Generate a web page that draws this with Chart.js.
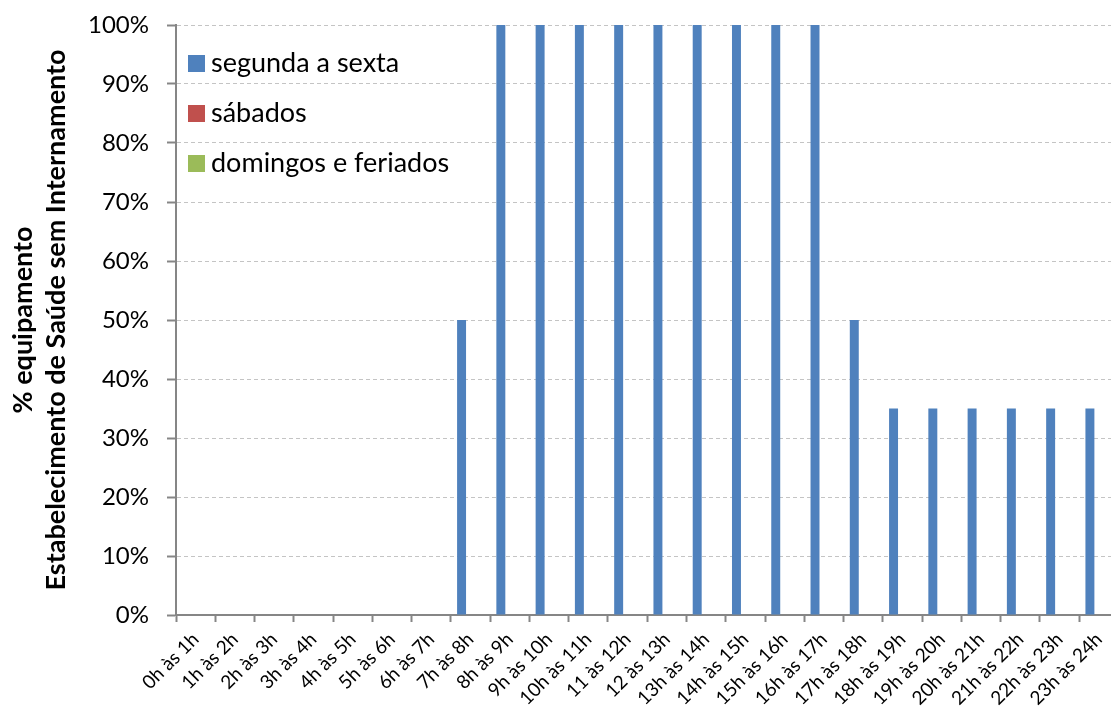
<!DOCTYPE html>
<html>
<head>
<meta charset="utf-8">
<script src="https://cdn.jsdelivr.net/npm/chart.js@4"></script>
<style>
    html, body { margin: 0; padding: 0; overflow: hidden; background: #fff; }
    #wrap { position: relative; width: 1121px; height: 711px; }
</style>
</head>
<body>
<div id="wrap"><canvas id="perfilChart" width="1121" height="711"></canvas></div>
<script>
// Horários (eixo X)
const horas = [
    '0h às 1h', '1h às 2h', '2h às 3h', '3h às 4h', '4h às 5h', '5h às 6h',
    '6h às 7h', '7h às 8h', '8h às 9h', '9h às 10h', '10h às 11h', '11 às 12h',
    '12 às 13h', '13h às 14h', '14h às 15h', '15h às 16h', '16h às 17h', '17h às 18h',
    '18h às 19h', '19h às 20h', '20h às 21h', '21h às 22h', '22h às 23h', '23h às 24h'
];

// % de utilização por tipo de dia
const segundaSexta = [0, 0, 0, 0, 0, 0, 0, 50, 100, 100, 100, 100, 100, 100, 100, 100, 100, 50, 35, 35, 35, 35, 35, 35];
const sabados = [0, 0, 0, 0, 0, 0, 0, 0, 0, 0, 0, 0, 0, 0, 0, 0, 0, 0, 0, 0, 0, 0, 0, 0];
const domingosFeriados = [0, 0, 0, 0, 0, 0, 0, 0, 0, 0, 0, 0, 0, 0, 0, 0, 0, 0, 0, 0, 0, 0, 0, 0];

const nomesSeries = ['segunda a sexta', 'sábados', 'domingos e feriados'];
const coresSeries = ['#4F81BD', '#C0504D', '#9BBB59'];

const tituloY = ['% equipamento', 'Estabelecimento de Saúde sem Internamento'];

const CINZA_EIXO = '#868686';
const FONTE = 'Lato';

// legenda vertical dentro da área do gráfico
const legendaInterna = {
    id: 'legendaInterna',
    afterDraw(chart) {
        const { ctx, chartArea } = chart;
        ctx.save();
        ctx.font = '27px ' + FONTE;
        ctx.textBaseline = 'alphabetic';
        chart.data.datasets.forEach((ds, i) => {
            const y = chartArea.top + 38 + i * 50;
            ctx.fillStyle = ds.backgroundColor;
            ctx.fillRect(chartArea.left + 12, y - 8, 17, 17);
            ctx.fillStyle = '#000';
            ctx.fillText(ds.label, chartArea.left + 35, y + 9);
        });
        ctx.restore();
    }
};

function drawChart() {
    const ctx = document.getElementById('perfilChart');
    const series = [segundaSexta, sabados, domingosFeriados];

    new Chart(ctx, {
        type: 'bar',
        data: {
            labels: horas,
            datasets: series.map((valores, i) => ({
                label: nomesSeries[i],
                data: valores,
                backgroundColor: coresSeries[i],
                borderWidth: 0,
                categoryPercentage: 0.685,
                barPercentage: 1.0
            }))
        },
        options: {
            responsive: false,
            animation: false,
            devicePixelRatio: 1,
            layout: { padding: { top: 25, left: 0, right: 0, bottom: 0 } },
            plugins: {
                legend: { display: false },
                tooltip: { enabled: false }
            },
            scales: {
                x: {
                    offset: true,
                    grid: {
                        display: true,
                        offset: true,
                        drawOnChartArea: false,
                        drawTicks: true,
                        tickLength: 7,
                        tickColor: CINZA_EIXO,
                        tickWidth: 2
                    },
                    border: { display: true, color: CINZA_EIXO, width: 2 },
                    ticks: {
                        autoSkip: false,
                        maxRotation: 45,
                        minRotation: 45,
                        padding: 6,
                        color: '#000',
                        font: { family: FONTE, size: 19 }
                    },
                    afterFit(scale) { scale.height = 96; }
                },
                y: {
                    min: 0,
                    max: 100,
                    grid: {
                        color: c => (c.tick && c.tick.value === 0) ? 'rgba(0,0,0,0)' : '#c4c4c4',
                        lineWidth: 1,
                        drawTicks: true,
                        tickLength: 9,
                        tickColor: CINZA_EIXO,
                        tickWidth: 2,
                        tickBorderDash: []
                    },
                    border: { display: true, color: CINZA_EIXO, width: 2, dash: [4, 3] },
                    ticks: {
                        stepSize: 10,
                        padding: 18,
                        color: '#000',
                        font: { family: FONTE, size: 24 },
                        callback: v => v + '%'
                    },
                    title: {
                        display: true,
                        text: tituloY,
                        color: '#000',
                        font: { family: FONTE, size: 27, weight: 'bold', lineHeight: 1.22 },
                        padding: { top: 7, bottom: 0 }
                    },
                    afterFit(scale) {
                        scale.width = 176;
                        // the tick padding should not push the plot area down
                        scale.paddingTop = 12;
                        scale.paddingBottom = 12;
                    }
                }
            }
        },
        plugins: [legendaInterna]
    });
}

Promise.all([
    document.fonts.load('24px ' + FONTE),
    document.fonts.load('bold 27px ' + FONTE)
]).then(drawChart, drawChart);
</script>
</body>
</html>
